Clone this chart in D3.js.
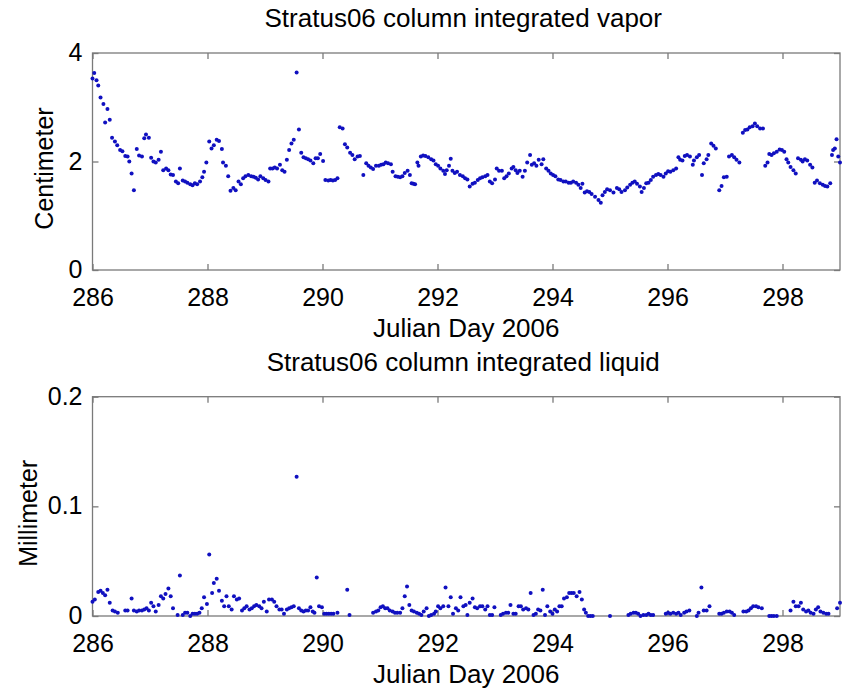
<!DOCTYPE html>
<html>
<head>
<meta charset="utf-8">
<script src="https://d3js.org/d3.v7.min.js"></script>
<style>
  body { margin: 0; background: #fff; }
  text { font-family: "Liberation Sans", Arial, Helvetica, sans-serif; fill: #000; }
</style>
</head>
<body>
<div id="graph"></div>
<script>

    // column integrated vapor (cm) by Julian day
    var vaporDay = [286.0, 286.03, 286.07, 286.1, 286.14, 286.19, 286.22, 286.26, 286.3, 286.34, 286.39, 286.43, 286.48, 286.52, 286.57, 286.61, 286.64, 286.68, 286.72, 286.77, 286.81, 286.86, 286.9, 286.93, 286.98,
        287.02, 287.06, 287.1, 287.15, 287.19, 287.23, 287.28, 287.32, 287.36, 287.4, 287.45, 287.49, 287.52, 287.57, 287.61, 287.65, 287.7, 287.74, 287.78, 287.82, 287.87, 287.91, 287.94, 287.98,
        288.03, 288.07, 288.11, 288.16, 288.2, 288.25, 288.27, 288.32, 288.36, 288.4, 288.45, 288.49, 288.54, 288.58, 288.62, 288.66, 288.71, 288.76, 288.8, 288.84, 288.88, 288.92, 288.97,
        289.01, 289.06, 289.09, 289.13, 289.17, 289.21, 289.26, 289.3, 289.34, 289.38, 289.42, 289.46, 289.5, 289.55, 289.59, 289.63, 289.67, 289.71, 289.75, 289.79, 289.84, 289.88, 289.92, 289.96,
        290.01, 290.05, 290.1, 290.14, 290.18, 290.22, 290.26, 290.3, 290.35, 290.39, 290.43, 290.48, 290.52, 290.56, 290.61, 290.65, 290.71, 290.76, 290.8, 290.84, 290.88, 290.93, 290.98,
        291.02, 291.06, 291.1, 291.14, 291.19, 291.22, 291.27, 291.31, 291.35, 291.39, 291.43, 291.48, 291.52, 291.55, 291.58, 291.61, 291.65, 291.67, 291.71, 291.75, 291.79, 291.84, 291.89, 291.93, 291.97,
        292.01, 292.05, 292.1, 292.13, 292.16, 292.2, 292.23, 292.26, 292.3, 292.34, 292.39, 292.44, 292.48, 292.52, 292.56, 292.61, 292.65, 292.7, 292.74, 292.78, 292.83, 292.87, 292.91, 292.95,
        293.0, 293.03, 293.07, 293.12, 293.16, 293.2, 293.24, 293.29, 293.32, 293.36, 293.39, 293.43, 293.48, 293.52, 293.56, 293.61, 293.64, 293.68, 293.72, 293.76, 293.81, 293.84, 293.89, 293.93, 293.97,
        294.01, 294.05, 294.1, 294.14, 294.19, 294.23, 294.28, 294.32, 294.36, 294.41, 294.45, 294.49, 294.52, 294.56, 294.6, 294.64, 294.68, 294.74, 294.8, 294.84, 294.87, 294.91, 294.95,
        295.0, 295.06, 295.12, 295.16, 295.2, 295.26, 295.3, 295.35, 295.39, 295.43, 295.47, 295.52, 295.55, 295.59, 295.63, 295.67, 295.71, 295.75, 295.8, 295.84, 295.88, 295.93, 295.97,
        296.01, 296.05, 296.1, 296.15, 296.19, 296.22, 296.26, 296.3, 296.34, 296.39, 296.44, 296.46, 296.51, 296.55, 296.6, 296.63, 296.68, 296.71, 296.76, 296.8, 296.84, 296.9, 296.94, 296.98,
        297.03, 297.07, 297.12, 297.16, 297.2, 297.25, 297.31, 297.35, 297.39, 297.43, 297.48, 297.52, 297.56, 297.61, 297.66, 297.7, 297.74, 297.77, 297.81, 297.85, 297.9, 297.95, 297.99,
        298.03, 298.07, 298.1, 298.14, 298.19, 298.23, 298.27, 298.32, 298.35, 298.39, 298.43, 298.48, 298.52, 298.56, 298.6, 298.65, 298.7, 298.74, 298.78, 298.83, 298.86, 298.88, 298.91, 298.94, 298.97, 299.0];

    var vaporCm = [3.53, 3.63, 3.50, 3.40, 3.18, 3.06, 2.72, 2.97, 2.77, 2.44, 2.37, 2.30, 2.21, 2.19, 2.10, 2.09, 2.00, 1.78, 1.47, 2.23, 2.11, 2.09, 2.43, 2.50, 2.44,
        2.07, 2.00, 1.98, 2.03, 2.18, 1.84, 1.87, 1.84, 1.76, 1.75, 1.63, 1.60, 1.87, 1.65, 1.63, 1.61, 1.58, 1.56, 1.60, 1.58, 1.63, 1.71, 1.81, 1.98,
        2.37, 2.24, 2.30, 2.40, 2.38, 2.23, 1.98, 1.92, 1.73, 1.46, 1.51, 1.47, 1.63, 1.58, 1.69, 1.73, 1.75, 1.73, 1.72, 1.70, 1.67, 1.73, 1.69,
        1.66, 1.63, 1.87, 1.87, 1.89, 1.87, 1.94, 1.84, 1.81, 2.03, 2.21, 2.33, 2.40, 3.64, 2.59, 2.16, 2.08, 2.06, 2.04, 2.02, 1.97, 2.06, 2.06, 2.14,
        2.01, 1.66, 1.65, 1.66, 1.65, 1.66, 1.69, 2.63, 2.61, 2.32, 2.26, 2.16, 2.12, 2.04, 2.09, 2.10, 1.75, 1.97, 1.92, 1.89, 1.86, 1.92, 1.92,
        1.94, 1.95, 1.98, 1.97, 1.95, 1.81, 1.73, 1.72, 1.71, 1.73, 1.79, 1.83, 1.75, 1.60, 1.59, 1.58, 1.98, 1.92, 2.09, 2.11, 2.10, 2.08, 2.04, 2.02, 1.95,
        1.92, 1.87, 1.83, 1.77, 1.84, 1.92, 2.05, 1.83, 1.79, 1.81, 1.75, 1.73, 1.69, 1.67, 1.54, 1.59, 1.61, 1.66, 1.69, 1.71, 1.73, 1.75, 1.63, 1.60,
        1.67, 1.87, 1.83, 1.83, 1.69, 1.73, 1.78, 1.87, 1.90, 1.84, 1.79, 1.83, 1.72, 1.83, 1.98, 2.12, 1.94, 1.97, 1.92, 2.03, 1.95, 2.04, 1.87, 1.83, 1.78,
        1.75, 1.73, 1.67, 1.66, 1.63, 1.63, 1.61, 1.61, 1.63, 1.61, 1.57, 1.51, 1.59, 1.43, 1.45, 1.44, 1.40, 1.35, 1.29, 1.24, 1.38, 1.44, 1.49,
        1.47, 1.43, 1.51, 1.49, 1.44, 1.47, 1.52, 1.57, 1.61, 1.63, 1.59, 1.54, 1.44, 1.51, 1.60, 1.61, 1.66, 1.72, 1.75, 1.77, 1.75, 1.72, 1.78,
        1.82, 1.81, 1.84, 1.87, 2.08, 2.03, 2.02, 2.10, 2.12, 2.09, 1.94, 2.02, 2.08, 2.12, 1.75, 1.97, 2.04, 2.12, 2.33, 2.29, 2.24, 1.47, 1.55, 1.71,
        1.72, 2.09, 2.12, 2.08, 2.03, 1.98, 2.53, 2.58, 2.59, 2.63, 2.65, 2.70, 2.65, 2.61, 2.61, 1.92, 1.98, 2.14, 2.12, 2.15, 2.18, 2.22, 2.21,
        2.18, 2.04, 1.98, 1.90, 1.84, 1.78, 2.06, 2.03, 2.00, 2.04, 2.02, 1.94, 1.89, 1.61, 1.65, 1.60, 1.57, 1.55, 1.54, 1.60, 2.12, 2.21, 2.24, 2.41, 2.09, 1.98];

    // column integrated liquid (mm) by Julian day
    var liquidDay = [286.0, 286.04, 286.1, 286.14, 286.18, 286.22, 286.26, 286.3, 286.35, 286.39, 286.44, 286.57, 286.61, 286.68, 286.72, 286.77, 286.81, 286.86, 286.9, 286.94, 286.98,
        287.02, 287.06, 287.1, 287.15, 287.19, 287.23, 287.27, 287.32, 287.36, 287.4, 287.48, 287.52, 287.57, 287.61, 287.65, 287.7, 287.74, 287.78, 287.82, 287.86, 287.9, 287.94, 287.99,
        288.03, 288.08, 288.11, 288.16, 288.2, 288.25, 288.29, 288.33, 288.37, 288.42, 288.46, 288.51, 288.55, 288.6, 288.64, 288.68, 288.73, 288.77, 288.81, 288.85, 288.9, 288.94, 288.98,
        289.03, 289.07, 289.12, 289.16, 289.2, 289.25, 289.29, 289.33, 289.38, 289.42, 289.46, 289.5, 289.55, 289.59, 289.63, 289.67, 289.71, 289.75, 289.79, 289.83, 289.86, 289.9, 289.94, 289.99,
        290.03, 290.07, 290.11, 290.15, 290.19, 290.26, 290.43, 290.47, 290.88, 290.93, 290.97,
        291.01, 291.05, 291.09, 291.13, 291.17, 291.22, 291.26, 291.3, 291.35, 291.39, 291.43, 291.47, 291.51, 291.55, 291.59, 291.64, 291.68, 291.72, 291.76, 291.81, 291.85, 291.89, 291.94, 291.97,
        292.01, 292.05, 292.1, 292.14, 292.19, 292.23, 292.27, 292.32, 292.36, 292.4, 292.45, 292.49, 292.52, 292.56, 292.61, 292.65, 292.69, 292.74, 292.78, 292.83, 292.87, 292.91, 292.95, 292.99,
        293.1, 293.14, 293.19, 293.23, 293.27, 293.32, 293.36, 293.41, 293.45, 293.49, 293.54, 293.58, 293.62, 293.67, 293.71, 293.75, 293.79, 293.83, 293.87, 293.91, 293.96,
        294.0, 294.04, 294.08, 294.12, 294.16, 294.2, 294.25, 294.29, 294.33, 294.37, 294.42, 294.47, 294.51, 294.55, 294.58, 294.62, 294.66, 294.7,
        295.0, 295.32, 295.36, 295.41, 295.45, 295.49, 295.53, 295.58, 295.63, 295.67, 295.71, 295.75, 295.97,
        296.01, 296.05, 296.1, 296.15, 296.19, 296.23, 296.29, 296.33, 296.38, 296.51, 296.54, 296.59, 296.63, 296.68, 296.73, 296.9, 296.94, 296.98,
        297.03, 297.08, 297.12, 297.16, 297.32, 297.37, 297.41, 297.45, 297.49, 297.54, 297.58, 297.64, 297.77, 297.81, 297.85, 297.9,
        298.14, 298.19, 298.23, 298.28, 298.32, 298.36, 298.41, 298.45, 298.49, 298.54, 298.58, 298.62, 298.66, 298.71, 298.76, 298.8, 298.95, 299.0];

    var liquidMm = [0.013, 0.015, 0.022, 0.023, 0.021, 0.019, 0.024, 0.012, 0.005, 0.004, 0.003, 0.005, 0.005, 0.016, 0.005, 0.004, 0.005, 0.005, 0.006, 0.007, 0.005,
        0.012, 0.009, 0.004, 0.010, 0.018, 0.016, 0.020, 0.025, 0.018, 0.007, 0.001, 0.037, 0.001, 0.003, 0.003, 0.0, 0.002, 0.002, 0.002, 0.003, 0.007, 0.017, 0.011,
        0.056, 0.021, 0.030, 0.034, 0.023, 0.014, 0.009, 0.018, 0.009, 0.006, 0.018, 0.015, 0.016, 0.005, 0.007, 0.009, 0.006, 0.007, 0.009, 0.010, 0.009, 0.007, 0.013,
        0.004, 0.015, 0.015, 0.013, 0.009, 0.006, 0.006, 0.002, 0.006, 0.007, 0.008, 0.009, 0.127, 0.007, 0.005, 0.004, 0.005, 0.005, 0.008, 0.004, 0.003, 0.035, 0.009, 0.008,
        0.002, 0.002, 0.002, 0.002, 0.002, 0.003, 0.024, 0.001, 0.003, 0.004, 0.005,
        0.008, 0.009, 0.007, 0.007, 0.005, 0.004, 0.003, 0.003, 0.003, 0.007, 0.018, 0.027, 0.010, 0.005, 0.004, 0.003, 0.002, 0.001, 0.004, 0.007, 0.0, 0.001, 0.002, 0.004,
        0.009, 0.007, 0.009, 0.026, 0.009, 0.017, 0.002, 0.007, 0.005, 0.017, 0.009, 0.010, 0.001, 0.012, 0.016, 0.008, 0.007, 0.009, 0.009, 0.006, 0.009, 0.001, 0.001, 0.008,
        0.001, 0.002, 0.003, 0.003, 0.010, 0.002, 0.002, 0.009, 0.009, 0.006, 0.007, 0.006, 0.021, 0.001, 0.002, 0.006, 0.005, 0.024, 0.001, 0.009, 0.004,
        0.002, 0.006, 0.004, 0.009, 0.009, 0.016, 0.017, 0.021, 0.021, 0.021, 0.018, 0.022, 0.015, 0.006, 0.003, 0.0, 0.0, 0.0,
        0.0, 0.001, 0.002, 0.003, 0.003, 0.002, 0.0, 0.001, 0.001, 0.002, 0.001, 0.001, 0.002,
        0.003, 0.002, 0.003, 0.002, 0.003, 0.001, 0.003, 0.004, 0.005, 0.0, 0.003, 0.026, 0.005, 0.005, 0.009, 0.002, 0.002, 0.003,
        0.004, 0.004, 0.003, 0.001, 0.004, 0.004, 0.005, 0.007, 0.009, 0.009, 0.008, 0.007, 0.0, 0.0, 0.0, 0.0,
        0.005, 0.013, 0.009, 0.009, 0.012, 0.006, 0.004, 0.005, 0.003, 0.002, 0.006, 0.008, 0.004, 0.003, 0.002, 0.002, 0.007, 0.012];

    var dayTicks = [286, 288, 290, 292, 294, 296, 298];
    var vaporTicks = [0, 2, 4];
    var liquidTicks = [0, 0.1, 0.2];

    var width = 843, height = 692;
    var left = 92.5, right = 840;
    var boxColor = "#7a7a7a", dotColor = "#1010c0";

    var svg = d3.select("#graph")
        .append("svg")
        .attr("width", width)
        .attr("height", height);

    var x = d3.scaleLinear()
        .domain([286, 299])
        .range([left, right]);

    function panel(top, bottom, yDomain, yTicks, days, vals, title, ylabel, ylabelX) {
        var y = d3.scaleLinear()
            .domain(yDomain)
            .range([bottom, top]);

        var g = svg.append("g");

        g.append("rect")
            .attr("x", left)
            .attr("y", top)
            .attr("width", right - left)
            .attr("height", bottom - top)
            .attr("fill", "none")
            .attr("stroke", boxColor)
            .attr("stroke-width", 1.3);

        // inward ticks on all four sides, labels only bottom and left
        var xb = g.append("g")
            .attr("transform", "translate(0," + bottom + ")")
            .call(d3.axisBottom(x).tickValues(dayTicks).tickFormat(d3.format("d")).tickSize(-6).tickPadding(18));
        var xt = g.append("g")
            .attr("transform", "translate(0," + top + ")")
            .call(d3.axisTop(x).tickValues(dayTicks).tickFormat("").tickSize(-6));
        var yl = g.append("g")
            .attr("transform", "translate(" + left + ",0)")
            .call(d3.axisLeft(y).tickValues(yTicks).tickFormat(function (d) { return d; }).tickSize(-6).tickPadding(10));
        var yr = g.append("g")
            .attr("transform", "translate(" + right + ",0)")
            .call(d3.axisRight(y).tickValues(yTicks).tickFormat("").tickSize(-6));

        [xb, xt, yl, yr].forEach(function (a) {
            a.select(".domain").remove();
            a.selectAll("line").attr("stroke", boxColor).attr("stroke-width", 1.3);
            a.selectAll("text")
                .style("font-family", "'Liberation Sans', Arial, sans-serif")
                .style("font-size", "25px")
                .attr("fill", "#000");
        });
        yl.selectAll("text").attr("dy", "0.3em");

        g.append("g")
            .selectAll("circle")
            .data(days)
            .enter()
            .append("circle")
            .attr("cx", function (d) { return x(d); })
            .attr("cy", function (d, i) { return y(vals[i]); })
            .attr("r", 2)
            .style("fill", dotColor);

        g.append("text")
            .attr("x", (left + right) / 2 - 3)
            .attr("y", top - 26)
            .attr("text-anchor", "middle")
            .style("font-size", "26px")
            .text(title);

        g.append("text")
            .attr("x", (left + right) / 2)
            .attr("y", bottom + 67)
            .attr("text-anchor", "middle")
            .style("font-size", "26px")
            .text("Julian Day 2006");

        g.append("text")
            .attr("transform", "translate(" + ylabelX + "," + ((top + bottom) / 2 + 7) + ") rotate(-90)")
            .attr("text-anchor", "middle")
            .style("font-size", "25px")
            .text(ylabel);
    }

    panel(53, 270, [0, 4], vaporTicks, vaporDay, vaporCm,
        "Stratus06 column integrated vapor", "Centimeter", 53);
    panel(396.7, 616, [0, 0.2], liquidTicks, liquidDay, liquidMm,
        "Stratus06 column integrated liquid", "Millimeter", 37);

</script>
</body>
</html>
